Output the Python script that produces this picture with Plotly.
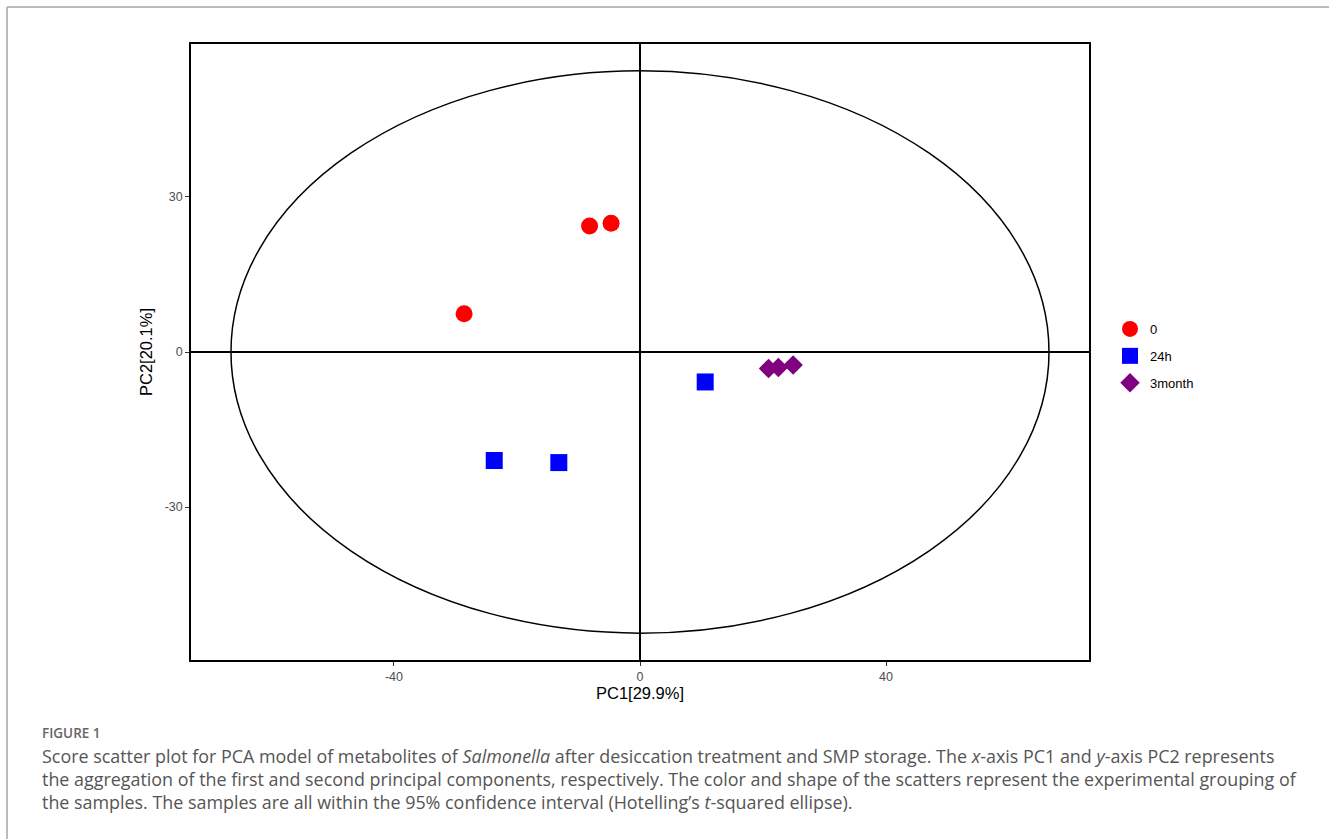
import plotly.graph_objects as go

# ---- data ----
groups = ["0", "24h", "3month"]
pc1_0 = [-8.2, -4.7, -28.6]
pc2_0 = [24.4, 24.9, 7.4]
pc1_24h = [10.6, -23.7, -13.2]
pc2_24h = [-5.8, -21.0, -21.4]
pc1_3m = [20.9, 22.5, 24.9]
pc2_3m = [-3.2, -3.0, -2.5]
ellipse_a = 66.5   # Hotelling T2 ellipse semi-axis along PC1
ellipse_b = 54.4   # semi-axis along PC2
x_ticks = [-40, 0, 40]
y_ticks = [-30, 0, 30]

colors = ["#FF0000", "#0000FF", "#800080"]
symbols = ["circle", "square", "diamond"]

W, H = 1329, 839
L, R, T, B = 191, 1089, 44, 660
pw, ph = R - L, B - T

def px(xp):
    return (xp - L) / pw

def py(yp):
    return (B - yp) / ph

fig = go.Figure()
for name, xs, ys, c, s in zip(groups, [pc1_0, pc1_24h, pc1_3m], [pc2_0, pc2_24h, pc2_3m], colors, symbols):
    fig.add_trace(go.Scatter(
        x=xs, y=ys, mode="markers", name=name, legendgroup=name,
        marker=dict(color=c, symbol=s, size=17 if s != "diamond" else 15,
                    line=dict(width=0)),
    ))

fig.add_shape(type="circle", xref="x", yref="y",
              x0=-ellipse_a, x1=ellipse_a, y0=-ellipse_b, y1=ellipse_b,
              line=dict(color="black", width=1.5), layer="below")

# outer page frame (top and left gray lines)
fig.add_shape(type="line", xref="paper", yref="paper",
              x0=px(7), x1=px(W + 5), y0=py(7), y1=py(7),
              line=dict(color="#BBBBBB", width=2))
fig.add_shape(type="line", xref="paper", yref="paper",
              x0=px(7), x1=px(7), y0=py(7), y1=py(H + 5),
              line=dict(color="#BBBBBB", width=2))

axis_common = dict(
    showgrid=False, zeroline=True, zerolinecolor="black", zerolinewidth=1.5,
    showline=True, linecolor="black", linewidth=1.5, mirror=True,
    ticks="outside", ticklen=4, tickcolor="#333333", tickwidth=1,
    tickfont=dict(family="Liberation Sans, Arial", size=12.5, color="#4D4D4D"),
)
fig.update_xaxes(range=[-73, 73], tickvals=x_ticks, ticktext=[str(v) for v in x_ticks],
                 title=dict(text="PC1[29.9%]", standoff=3,
                            font=dict(family="Liberation Sans, Arial", size=16.5, color="black")),
                 **axis_common)
fig.update_yaxes(range=[-59.6, 59.6], tickvals=y_ticks, ticktext=[str(v) for v in y_ticks],
                 title=dict(text="PC2[20.1%]", standoff=8,
                            font=dict(family="Liberation Sans, Arial", size=16.5, color="black")),
                 **axis_common)

cap_font = dict(family="Open Sans", size=17.9, color="#555555")
caption = [
    "Score scatter plot for PCA model of metabolites of <i>Salmonella</i> after desiccation treatment and SMP storage. The <i>x</i>-axis PC1 and <i>y</i>-axis PC2 represents",
    "the aggregation of the first and second principal components, respectively. The color and shape of the scatters represent the experimental grouping of",
    "the samples. The samples are all within the 95% confidence interval (Hotelling’s <i>t</i>-squared ellipse).",
]
fig.add_annotation(text="FIGURE 1", xref="paper", yref="paper", x=px(40), y=py(733),
                   xanchor="left", yanchor="middle", showarrow=False,
                   font=dict(family="Open Sans", size=13.5, color="#666666", weight=600))
for i, line in enumerate(caption):
    fig.add_annotation(text=line, xref="paper", yref="paper", x=px(40), y=py(756 + 23 * i),
                       xanchor="left", yanchor="middle", showarrow=False, font=cap_font)

fig.update_layout(
    width=W, height=H,
    margin=dict(l=L, r=W - R, t=T, b=H - B, pad=0),
    paper_bgcolor="white", plot_bgcolor="white",
    legend=dict(x=px(1110), y=py(356), xanchor="left", yanchor="middle",
                font=dict(family="Liberation Sans, Arial", size=13, color="black"),
                tracegroupgap=7, itemsizing="trace", bgcolor="rgba(0,0,0,0)"),
)

fig.write_html("out.html", config={"displayModeBar": False},
               post_script="document.body.style.margin='0';document.body.style.padding='0';")
